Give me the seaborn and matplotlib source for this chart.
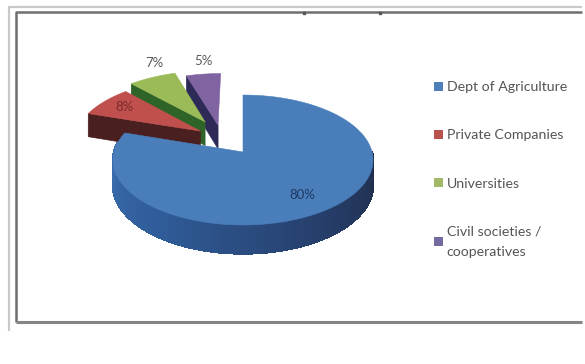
import numpy as np
import seaborn as sns
import matplotlib
matplotlib.use("Agg")
import matplotlib.pyplot as plt
from matplotlib.patches import Polygon, Patch
from matplotlib.colors import to_rgb

categories = ["Dept of Agriculture", "Private Companies", "Universities",
              "Civil societies /\ncooperatives"]
shares = [80, 8, 7, 5]
share_labels = ["80%", "8%", "7%", "5%"]

sns.set_theme(style="white")
plt.rcParams["font.family"] = ["Lato", "DejaVu Sans"]

top_colors = sns.color_palette(["#4a7ebb", "#c0504d", "#9bbb59", "#8064a2"])
cut_colors = ["#2f5c98", "#4a1f1f", "#2f6428", "#2d2a58"]
legend_colors = ["#4f7fb8", "#b9524f", "#a3b96a", "#76699f"]

# Projection of the tilted disc onto the page, in pixels
CX, CY, RX, RY, DEPTH, PERSPECTIVE = 243, 152, 129, 64, 25, 0.123
# Slice offset within the disc plane
explode = [(0.0, 0.0), (-0.344, 0.34), (-0.312, 0.499), (-0.204, 0.443)]
label_xy = [(302, 195), (124, 107), (154, 63), (203, 61)]


def project(x, y, drop=0.0):
    s = 1 / (1 + PERSPECTIVE * y)
    return CX + RX * x * s, CY - RY * y * s + DEPTH * drop * s


fig = plt.figure(figsize=(5.85, 3.64), dpi=100, facecolor="white")
ax = fig.add_axes([0, 0, 1, 1])
ax.set_xlim(0, 585)
ax.set_ylim(364, 0)
ax.axis("off")

# Double frame around the chart area
ax.plot([9, 9, 582], [331, 7, 7], color="#c9c9c9", lw=1.6, solid_capstyle="butt")
ax.plot([16, 16, 582], [322, 11.5, 11.5], color="#6f6f6f", lw=1.8, solid_capstyle="butt")
ax.plot([16, 582], [322, 322], color="#858585", lw=2.2, solid_capstyle="butt")
ax.plot([304, 380], [12.5, 12.5], ls="none", marker="s", ms=1.5, color="#555555")

edges = 360 * np.cumsum([0] + shares) / sum(shares)
side_ramp = np.array([to_rgb(c) for c in ["#1f2b46", "#27406e", "#2f5c98", "#3c6eaf"]])


def slice_outline(i, drop=0.0):
    dx, dy = explode[i]
    t = np.radians(np.linspace(edges[i], edges[i + 1], 120))
    pts = [project(dx, dy, drop)]
    pts += [project(dx + np.sin(a), dy + np.cos(a), drop) for a in t]
    return pts


# Exploded wedges go first, from the back of the disc to the front
for i in [3, 2, 1]:
    dx, dy = explode[i]
    a = np.radians(edges[i])
    rim = (dx + np.sin(a), dy + np.cos(a))
    face = [project(dx, dy), project(*rim), project(*rim, 1), project(dx, dy, 1)]
    ax.add_patch(Polygon(face, closed=True, fc=cut_colors[i], ec=cut_colors[i], lw=0.5, zorder=2 + 3 - i))
    ax.add_patch(Polygon(slice_outline(i), closed=True, fc=top_colors[i], ec=top_colors[i], lw=0.4, zorder=2 + 3 - i))

# Rim of the large slice, shaded from the lit left side to the dark right side
rim_angles = np.linspace(90, 278, 160)
for a0, a1 in zip(rim_angles[:-1], rim_angles[1:]):
    r0, r1 = np.radians(a0), np.radians(a1)
    quad = [project(np.sin(r0), np.cos(r0)), project(np.sin(r1), np.cos(r1)),
            project(np.sin(r1), np.cos(r1), 1), project(np.sin(r0), np.cos(r0), 1)]
    pos = (0.5 * (a0 + a1) - 90) / 188 * (len(side_ramp) - 1)
    lo = int(pos)
    hi = min(lo + 1, len(side_ramp) - 1)
    color = side_ramp[lo] + (side_ramp[hi] - side_ramp[lo]) * (pos - lo)
    ax.add_patch(Polygon(quad, closed=True, fc=color, ec=color, lw=1.0, antialiased=False, zorder=6))
ax.add_patch(Polygon(slice_outline(0), closed=True, fc=top_colors[0], ec=top_colors[0], lw=0.4, zorder=7))

label_colors = ["#1f3a63", "#7a2a28", "#595959", "#595959"]
for text, (x, y), color in zip(share_labels, label_xy, label_colors):
    ax.text(x, y, text, ha="center", va="center", fontsize=9.5, color=color, zorder=8)

handles = [Patch(fc=c, ec="none") for c in legend_colors]
legend = ax.legend(handles, categories, loc="upper left", bbox_to_anchor=(434, 81),
                   bbox_transform=ax.transData, frameon=False, fontsize=10.2,
                   handlelength=0.6, handleheight=0.6, handletextpad=0.3,
                   labelspacing=2.56, borderpad=0, borderaxespad=0, labelcolor="#555555")
legend.get_texts()[3].set_linespacing(1.8)

fig.savefig("out.png", dpi=100, facecolor="white")
